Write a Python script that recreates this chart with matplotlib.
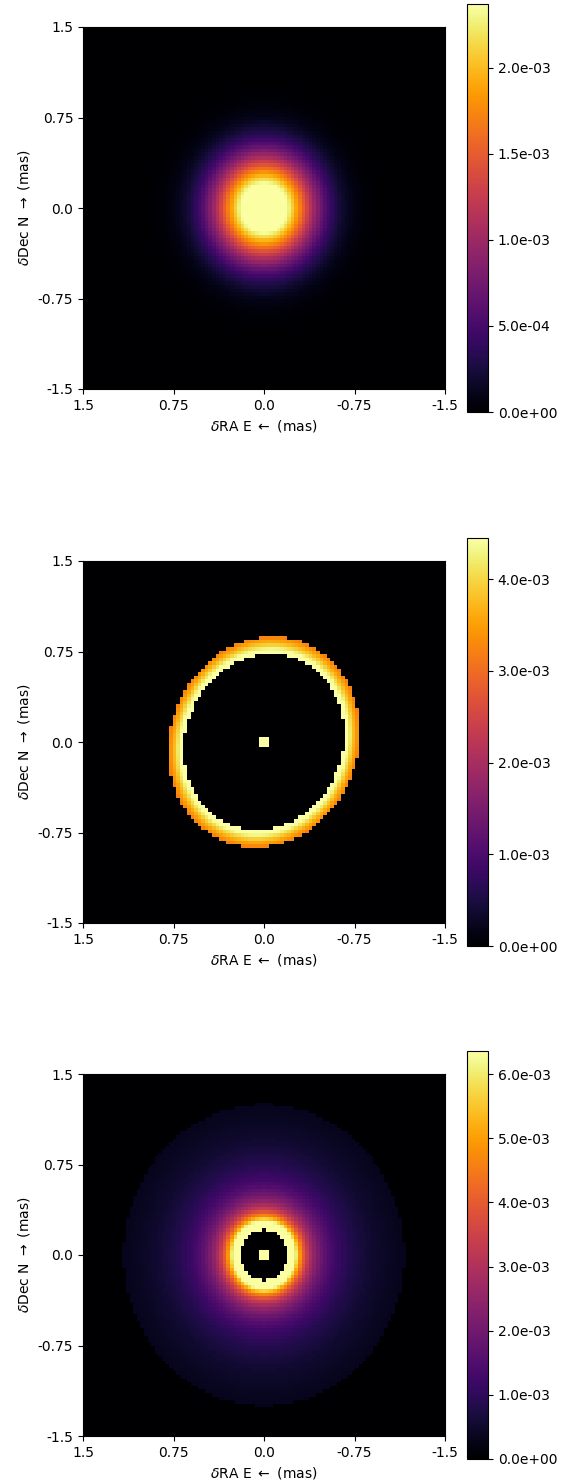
import matplotlib
matplotlib.use("Agg")
import matplotlib.pyplot as plt
import numpy as np
from matplotlib.ticker import MultipleLocator

# image grid (mas)
GRID_N = 101
HALF_WIDTH = 1.5

# panel 1: gaussian blob
GAUSS_PEAK = 3.0e-3
GAUSS_SIGMA_X = 0.28
GAUSS_SIGMA_Y = 0.295

# panel 2: thin inclined ring + central star
RING_R_IN = 0.74
RING_R_OUT = 0.885
RING_COS_INC = 0.88
RING_PA_DEG = 21.0
RING_I_IN = 5.0e-3
RING_POWER = 2.5

# panel 3: disk with inner rim + central star
DISK_R_IN = 0.21
DISK_R_OUT = 1.25
DISK_COS_INC = 0.93
DISK_PA_DEG = 0.0
DISK_AMP = 5.0e-4
DISK_POWER = 2.0

STAR_FLUX = 1.0e-2

# colour scale top and tick step of each panel
VMAX = [2.37e-3, 4.45e-3, 6.36e-3]
CBAR_STEP = [5e-4, 1e-3, 1e-3]

TICKS = [1.5, 0.75, 0.0, -0.75, -1.5]
TICK_LABELS = ["1.5", "0.75", "0.0", "-0.75", "-1.5"]

# pixel grid (x decreasing from left to right, RA convention)
dx = 2 * HALF_WIDTH / GRID_N
xs = HALF_WIDTH - (np.arange(GRID_N) + 0.5) * dx
ys = -HALF_WIDTH + (np.arange(GRID_N) + 0.5) * dx
X, Y = np.meshgrid(xs, ys)
mid = GRID_N // 2


def deproj_radius(pa_deg, cos_inc):
    t = np.radians(pa_deg)
    u = -X * np.sin(t) + Y * np.cos(t)
    w = X * np.cos(t) + Y * np.sin(t)
    return np.sqrt(u**2 + (w / cos_inc) ** 2)


def add_star(img):
    img[mid - 1:mid + 2, mid - 1:mid + 2] = STAR_FLUX
    return img


# panel 1
img1 = GAUSS_PEAK * np.exp(-X**2 / (2 * GAUSS_SIGMA_X**2) - Y**2 / (2 * GAUSS_SIGMA_Y**2))

# panel 2
r2 = deproj_radius(RING_PA_DEG, RING_COS_INC)
img2 = np.where((r2 >= RING_R_IN) & (r2 <= RING_R_OUT),
                RING_I_IN * (np.maximum(r2, 1e-6) / RING_R_IN) ** (-RING_POWER), 0.0)
img2 = add_star(img2)

# panel 3
r3 = deproj_radius(DISK_PA_DEG, DISK_COS_INC)
img3 = np.where((r3 >= DISK_R_IN) & (r3 <= DISK_R_OUT),
                DISK_AMP * np.maximum(r3, 1e-6) ** (-DISK_POWER), 0.0)
img3 = add_star(img3)

images = [img1, img2, img3]

W, H = 571, 1481
fig = plt.figure(figsize=(W / 100, H / 100), dpi=100)

# (axes top, colorbar top) in pixels from the top of the figure
panel_tops = [(27, 4), (561, 538), (1074, 1051)]


def px_axes(left, top, width, height):
    return fig.add_axes([left / W, (H - top - height) / H, width / W, height / H])


for img, vmax, step, (ax_top, cb_top) in zip(images, VMAX, CBAR_STEP, panel_tops):
    ax = px_axes(83, ax_top, 362, 362)
    cax = px_axes(467, cb_top, 21, 408)
    im = ax.imshow(img, origin="lower", cmap="inferno", vmin=0, vmax=vmax,
                   extent=[HALF_WIDTH, -HALF_WIDTH, -HALF_WIDTH, HALF_WIDTH],
                   interpolation="nearest", aspect="auto")
    ax.set_xticks(TICKS)
    ax.set_xticklabels(TICK_LABELS)
    ax.set_yticks(TICKS)
    ax.set_yticklabels(TICK_LABELS)
    ax.set_xlabel(r"$\delta$RA E $\leftarrow$ (mas)")
    ax.set_ylabel(r"$\delta$Dec N $\rightarrow$ (mas)")
    cb = fig.colorbar(im, cax=cax, format="%.1e")
    cb.locator = MultipleLocator(step)
    cb.update_ticks()

fig.savefig("out.png", dpi=100)
